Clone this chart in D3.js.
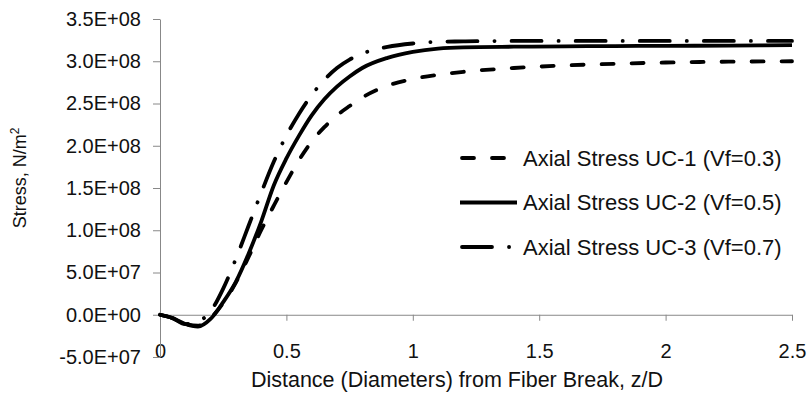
<!DOCTYPE html>
<html>
<head>
<meta charset="utf-8">
<script src="https://cdn.jsdelivr.net/npm/d3@7"></script>
<style>
  body { margin: 0; background: #fff; }
  svg { display: block; font-family: "Liberation Sans", Arial, sans-serif; }
</style>
</head>
<body>
<svg width="810" height="399"></svg>
<script>
// distance along fiber, z/D
const zD = [0, 0.05, 0.1, 0.15, 0.2, 0.25, 0.3, 0.35, 0.4, 0.45, 0.5, 0.55, 0.6, 0.65, 0.7,
  0.75, 0.8, 0.9, 1.0, 1.1, 1.2, 1.4, 1.6, 1.8, 2.0, 2.25, 2.5]

// axial stress, N/m^2
const uc1 = [0, -0.04e8, -0.11e8, -0.13e8, -0.04e8, 0.14e8, 0.38e8, 0.68e8, 1.00e8, 1.29e8, 1.57e8,
  1.83e8, 2.05e8, 2.22e8, 2.36e8, 2.47e8, 2.57e8, 2.71e8, 2.79e8, 2.84e8, 2.875e8, 2.92e8,
  2.95e8, 2.97e8, 2.985e8, 2.995e8, 3.0e8]
const uc2 = [0, -0.04e8, -0.11e8, -0.14e8, -0.05e8, 0.15e8, 0.39e8, 0.72e8, 1.10e8, 1.53e8, 1.85e8,
  2.12e8, 2.36e8, 2.55e8, 2.70e8, 2.82e8, 2.92e8, 3.04e8, 3.11e8, 3.15e8, 3.165e8, 3.172e8,
  3.176e8, 3.18e8, 3.182e8, 3.186e8, 3.19e8]
const uc3 = [0, -0.04e8, -0.11e8, -0.08e8, 0.04e8, 0.31e8, 0.66e8, 1.05e8, 1.44e8, 1.81e8, 2.12e8,
  2.38e8, 2.60e8, 2.78e8, 2.92e8, 3.02e8, 3.09e8, 3.17e8, 3.21e8, 3.23e8, 3.235e8, 3.24e8,
  3.24e8, 3.24e8, 3.24e8, 3.24e8, 3.24e8]

const seriesNames = ["Axial Stress UC-1 (Vf=0.3)", "Axial Stress UC-2 (Vf=0.5)", "Axial Stress UC-3 (Vf=0.7)"]

const yTicks = [-5e7, 0, 5e7, 1e8, 1.5e8, 2e8, 2.5e8, 3e8, 3.5e8]
const yTickLabels = ["-5.0E+07", "0.0E+00", "5.0E+07", "1.0E+08", "1.5E+08", "2.0E+08", "2.5E+08", "3.0E+08", "3.5E+08"]
const xTicks = [0, 0.5, 1, 1.5, 2, 2.5]
const xTickLabels = ["0", "0.5", "1", "1.5", "2", "2.5"]

const svg = d3.select("svg")
const axisColor = "#888"

const x = d3.scaleLinear().domain([0, 2.5]).range([160, 792])
const y = d3.scaleLinear().domain([-5e7, 3.5e8]).range([357, 19])

// x axis through zero
const gx = svg.append("g")
  .attr("transform", "translate(0," + y(0) + ")")
  .call(d3.axisBottom(x).tickValues(xTicks).tickFormat((d, i) => xTickLabels[i])
    .tickSize(6).tickSizeOuter(0).tickPadding(23))
gx.selectAll("line").attr("stroke", axisColor)
gx.select(".domain").attr("stroke", axisColor)
gx.selectAll("text").attr("font-size", 20).attr("fill", "#111")
gx.selectAll(".tick").filter(d => d === 0).select("line").remove()

// y axis
const gy = svg.append("g")
  .attr("transform", "translate(" + x(0) + ",0)")
  .call(d3.axisLeft(y).tickValues(yTicks).tickFormat((d, i) => yTickLabels[i])
    .tickSize(7).tickSizeOuter(0).tickPadding(12))
gy.selectAll("line").attr("stroke", axisColor)
gy.select(".domain").attr("stroke", axisColor)
gy.selectAll("text").attr("font-size", 20).attr("fill", "#111")

// axis titles
svg.append("text")
  .attr("x", 457).attr("y", 387)
  .attr("text-anchor", "middle")
  .attr("font-size", 21.5).attr("fill", "#111")
  .text("Distance (Diameters) from Fiber Break, z/D")

const yt = svg.append("text")
  .attr("transform", "translate(26,178) rotate(-90)")
  .attr("text-anchor", "middle")
  .attr("font-size", 18).attr("fill", "#111")
yt.append("tspan").text("Stress, N/m")
yt.append("tspan").attr("font-size", 12).attr("dy", -7).text("2")

// lines
const styles = [
  { dash: "12,18" },
  { dash: null },
  { dash: "30,17,0.1,17" }
]
const series = [uc1, uc2, uc3]

const line = d3.line()
  .x((d, i) => x(zD[i]))
  .y(d => y(d))
  .curve(d3.curveMonotoneX)

series.forEach((s, k) => {
  svg.append("path")
    .datum(s)
    .attr("d", line)
    .attr("fill", "none")
    .attr("stroke", "#000")
    .attr("stroke-width", 3.8)
    .attr("stroke-linecap", styles[k].dash ? "round" : "butt")
    .attr("stroke-dasharray", styles[k].dash)
})

// legend
const legend = svg.append("g")
seriesNames.forEach((name, k) => {
  const ly = 158 + k * 44.5
  legend.append("line")
    .attr("x1", styles[k].dash ? 462 : 460).attr("x2", 517)
    .attr("y1", ly).attr("y2", ly)
    .attr("stroke", "#000").attr("stroke-width", 3.8)
    .attr("stroke-linecap", styles[k].dash ? "round" : "butt")
    .attr("stroke-dasharray", styles[k].dash)
  legend.append("text")
    .attr("x", 523).attr("y", ly).attr("dy", "0.35em")
    .attr("font-size", 22).attr("fill", "#111")
    .text(name)
})
</script>
</body>
</html>
